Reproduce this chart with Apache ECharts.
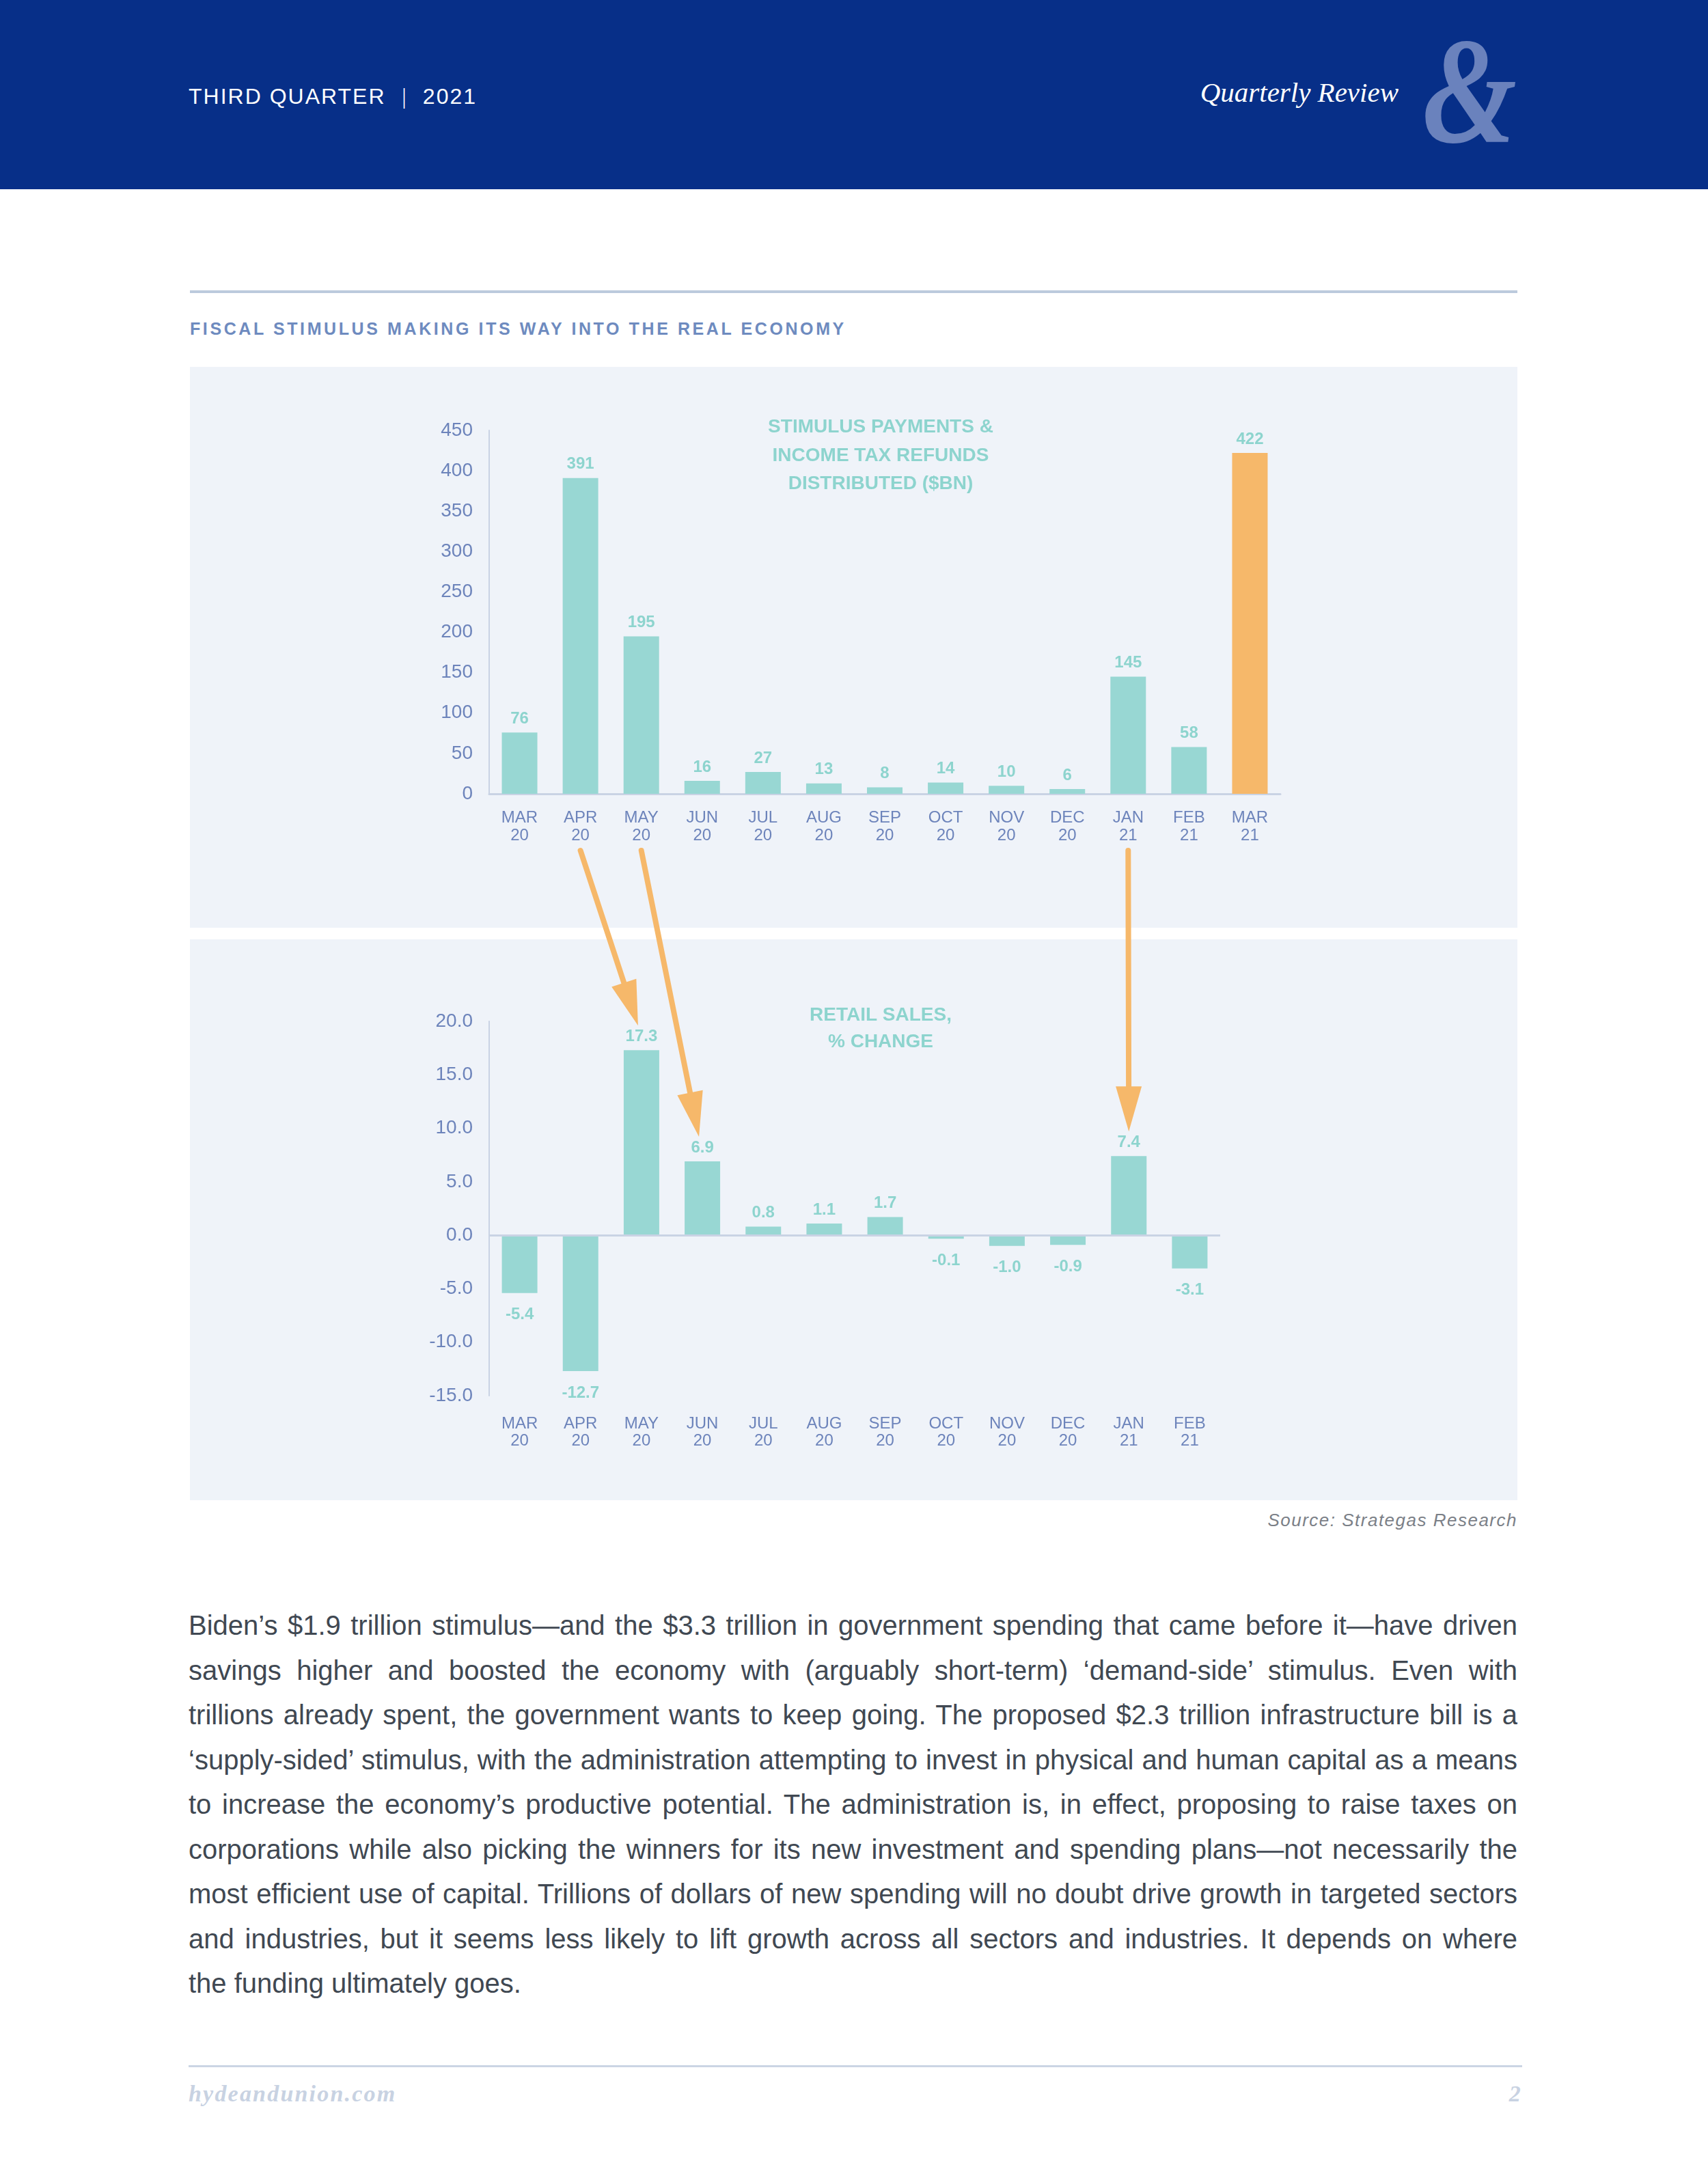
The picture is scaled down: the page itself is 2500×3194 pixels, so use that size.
<!DOCTYPE html>
<html><head><meta charset="utf-8">
<script src="https://cdn.jsdelivr.net/npm/echarts@6/dist/echarts.min.js"></script>
<style>
html,body{margin:0;padding:0;background:#fff;}
body{width:2500px;height:3194px;position:relative;overflow:hidden;font-family:'Liberation Sans',Arial,sans-serif;}
.abs{position:absolute;white-space:nowrap;}
#header{left:0;top:0;width:2500px;height:277px;background:#072f88;}
#quarter{left:276px;top:125px;font-size:32px;line-height:1;color:#fff;letter-spacing:2px;}
#quarter .sep{display:inline-block;margin:0 22px;font-weight:300;transform:scaleX(0.6);}
#review{right:453px;top:115px;font-family:'Liberation Serif','Times New Roman',serif;font-style:italic;font-size:41px;line-height:1;color:#fff;}
#amp{left:2082px;top:22px;font-family:'Liberation Serif','Times New Roman',serif;font-style:italic;font-weight:bold;font-size:222px;line-height:1;color:#6a82bd;transform:scaleX(0.8);transform-origin:left top;}
#rule1{left:278px;top:425px;width:1943px;height:4px;background:#bccadd;}
#ctitle{left:278px;top:469px;font-size:25px;line-height:1;font-weight:bold;color:#6e8bbf;letter-spacing:3.6px;}
.panel{left:278px;width:1943px;background:#eff3f9;}
#source{right:279px;top:2212px;font-size:26px;line-height:1;font-style:italic;color:#7b8087;letter-spacing:1.5px;}
#para{left:276px;top:2347px;width:1945px;font-size:40px;line-height:65.5px;color:#404852;}
#para .ln{white-space:nowrap;text-align:justify;text-align-last:justify;}
#para .ln.last{text-align-last:left;}
#rule2{left:276px;top:3023px;width:1952px;height:3px;background:#cbd5e4;}
.foot{top:3048px;font-family:'Liberation Serif','Times New Roman',serif;font-style:italic;font-weight:bold;font-size:34px;line-height:1;color:#c8d2e2;letter-spacing:2.2px;}
#chart{position:absolute;left:0;top:0;width:2500px;height:3194px;}
</style></head><body>
<div id="header" class="abs"></div>
<div id="quarter" class="abs">THIRD QUARTER<span class="sep">|</span>2021</div>
<div id="review" class="abs">Quarterly Review</div>
<div id="amp" class="abs">&amp;</div>
<div id="rule1" class="abs"></div>
<div id="ctitle" class="abs">FISCAL STIMULUS MAKING ITS WAY INTO THE REAL ECONOMY</div>
<div class="abs panel" style="top:537px;height:821px;"></div>
<div class="abs panel" style="top:1375px;height:821px;"></div>
<div id="source" class="abs">Source: Strategas Research</div>
<div id="para" class="abs">
<div class="ln">Biden’s $1.9 trillion stimulus—and the $3.3 trillion in government spending that came before it—have driven</div>
<div class="ln">savings higher and boosted the economy with (arguably short-term) ‘demand-side’ stimulus. Even with</div>
<div class="ln">trillions already spent, the government wants to keep going. The proposed $2.3 trillion infrastructure bill is a</div>
<div class="ln">‘supply-sided’ stimulus, with the administration attempting to invest in physical and human capital as a means</div>
<div class="ln">to increase the economy’s productive potential. The administration is, in effect, proposing to raise taxes on</div>
<div class="ln">corporations while also picking the winners for its new investment and spending plans—not necessarily the</div>
<div class="ln">most efficient use of capital. Trillions of dollars of new spending will no doubt drive growth in targeted sectors</div>
<div class="ln">and industries, but it seems less likely to lift growth across all sectors and industries. It depends on where</div>
<div class="ln last">the funding ultimately goes.</div>
</div>
<div id="rule2" class="abs"></div>
<div class="abs foot" style="left:276px;">hydeandunion.com</div>
<div class="abs foot" style="right:272px;">2</div>
<div id="chart"></div>
<script>
// ---- data ----
const stimulusCategories = ['MAR 20','APR 20','MAY 20','JUN 20','JUL 20','AUG 20','SEP 20','OCT 20','NOV 20','DEC 20','JAN 21','FEB 21','MAR 21'];
const stimulusValues = [76, 391, 195, 16, 27, 13, 8, 14, 10, 6, 145, 58, 422];
const stimulusHighlight = 'MAR 21';
const stimulusTicks = [0, 50, 100, 150, 200, 250, 300, 350, 400, 450];
const stimulusTitle = 'STIMULUS PAYMENTS &\nINCOME TAX REFUNDS\nDISTRIBUTED ($BN)';

const retailCategories = ['MAR 20','APR 20','MAY 20','JUN 20','JUL 20','AUG 20','SEP 20','OCT 20','NOV 20','DEC 20','JAN 21','FEB 21'];
const retailValues = [-5.4, -12.7, 17.3, 6.9, 0.8, 1.1, 1.7, -0.1, -1.0, -0.9, 7.4, -3.1];
const retailTicks = [-15, -10, -5, 0, 5, 10, 15, 20];
const retailTitle = 'RETAIL SALES,\n% CHANGE';

// arrows: from a stimulus month to a retail-sales month
const arrowLinks = [['APR 20', 'MAY 20'], ['MAY 20', 'JUN 20'], ['JAN 21', 'JAN 21']];

// ---- fit paragraph lines ----
document.querySelectorAll('#para .ln').forEach(function (el) {
  if (el.classList.contains('last')) return;
  const W = 1945;
  const r = document.createRange(); r.selectNodeContents(el);
  const w = r.getBoundingClientRect().width;
  if (w > W) {
    const n = el.textContent.length;
    el.style.letterSpacing = ((W - w) / n - 0.05) + 'px';
  }
});

// ---- chart ----
const TEAL = '#98d7d3', TEAL_TXT = '#8dd4ce', ORANGE = '#f6b86a', AXIS_TXT = '#6d84bb', AXIS_LINE = '#c9d3e4';
const FONT = "'Liberation Sans', Arial, sans-serif";
const chart = echarts.init(document.getElementById('chart'), null, {renderer: 'canvas'});

const catLabel = (v) => v.replace(' ', '\n');

const option = {
  backgroundColor: 'transparent',
  animation: false,
  textStyle: {fontFamily: FONT},
  title: [
    {text: stimulusTitle, left: 1289, top: 605, textAlign: 'center', padding: 0,
     textStyle: {fontSize: 28, fontWeight: 'bold', color: TEAL_TXT, lineHeight: 41.5, fontFamily: FONT}},
    {text: retailTitle, left: 1289, top: 1467, textAlign: 'center', padding: 0,
     textStyle: {fontSize: 28, fontWeight: 'bold', color: TEAL_TXT, lineHeight: 39, fontFamily: FONT}}
  ],
  grid: [
    {left: 716, top: 630, width: 1158, height: 532, containLabel: false},
    {left: 716, top: 1495, width: 1070, height: 548, containLabel: false}
  ],
  xAxis: [
    {type: 'category', gridIndex: 0, data: stimulusCategories,
     axisLine: {show: true, lineStyle: {color: AXIS_LINE, width: 3}},
     axisTick: {show: false},
     axisLabel: {formatter: catLabel, fontSize: 24, lineHeight: 26, margin: 22, color: AXIS_TXT, fontFamily: FONT}},
    {type: 'category', gridIndex: 1, data: retailCategories,
     axisLine: {show: false, onZero: false},
     axisTick: {show: false},
     axisLabel: {formatter: catLabel, fontSize: 24, lineHeight: 25, margin: 29, color: AXIS_TXT, fontFamily: FONT}}
  ],
  yAxis: [
    {type: 'value', gridIndex: 0,
     min: stimulusTicks[0], max: stimulusTicks[stimulusTicks.length - 1], interval: stimulusTicks[1] - stimulusTicks[0],
     axisLine: {show: true, lineStyle: {color: AXIS_LINE, width: 2}},
     axisTick: {show: false}, splitLine: {show: false},
     axisLabel: {fontSize: 28, margin: 24, color: AXIS_TXT, fontFamily: FONT}},
    {type: 'value', gridIndex: 1,
     min: retailTicks[0], max: retailTicks[retailTicks.length - 1], interval: retailTicks[1] - retailTicks[0],
     axisLine: {show: true, onZero: false, lineStyle: {color: AXIS_LINE, width: 2}},
     axisTick: {show: false}, splitLine: {show: false},
     axisLabel: {fontSize: 28, margin: 24, color: AXIS_TXT, fontFamily: FONT, formatter: (v) => v.toFixed(1)}}
  ],
  series: [
    {type: 'bar', xAxisIndex: 0, yAxisIndex: 0, barWidth: 52,
     data: stimulusValues.map((v, i) => ({value: v, itemStyle: {color: stimulusCategories[i] === stimulusHighlight ? ORANGE : TEAL}})),
     label: {show: true, position: 'top', distance: 8, fontSize: 24, fontWeight: 'bold', color: TEAL_TXT, fontFamily: FONT}},
    {type: 'bar', xAxisIndex: 1, yAxisIndex: 1, barWidth: 52, barMinHeight: 5,
     itemStyle: {color: TEAL},
     data: retailValues.map((v) => ({value: v, label: {position: v < 0 ? 'bottom' : 'top', distance: v < 0 ? 20 : 8}})),
     label: {show: true, fontSize: 24, fontWeight: 'bold', color: TEAL_TXT, fontFamily: FONT, formatter: (p) => p.value.toFixed(1)},
     markLine: {silent: true, symbol: 'none', label: {show: false},
       lineStyle: {color: AXIS_LINE, width: 3, type: 'solid'}, data: [{yAxis: 0}]}}
  ]
};
chart.setOption(option);

// arrows anchored to the axes
const graphics = [];
arrowLinks.forEach(function (pair) {
  const fi = stimulusCategories.indexOf(pair[0]);
  const ti = retailCategories.indexOf(pair[1]);
  const s = chart.convertToPixel({xAxisIndex: 0, yAxisIndex: 0}, [fi, 0]);
  const e = chart.convertToPixel({xAxisIndex: 1, yAxisIndex: 1}, [ti, retailValues[ti]]);
  const sx = s[0], sy = s[1] + 83;
  const ex = e[0] - (pair[0] === pair[1] ? 0 : 5), ey = e[1] - 36;
  const dx = ex - sx, dy = ey - sy, L = Math.sqrt(dx * dx + dy * dy);
  const ux = dx / L, uy = dy / L;
  const headLen = 66, headHalf = 19;
  const bx = ex - ux * headLen, by = ey - uy * headLen;
  graphics.push({type: 'line', z: 100, shape: {x1: sx, y1: sy, x2: bx + ux * 4, y2: by + uy * 4},
    style: {stroke: ORANGE, lineWidth: 8, lineCap: 'round'}});
  graphics.push({type: 'polygon', z: 100, shape: {points: [[ex, ey], [bx - uy * headHalf, by + ux * headHalf], [bx + uy * headHalf, by - ux * headHalf]]},
    style: {fill: ORANGE}});
});
chart.setOption({graphic: graphics});
</script>
</body></html>
